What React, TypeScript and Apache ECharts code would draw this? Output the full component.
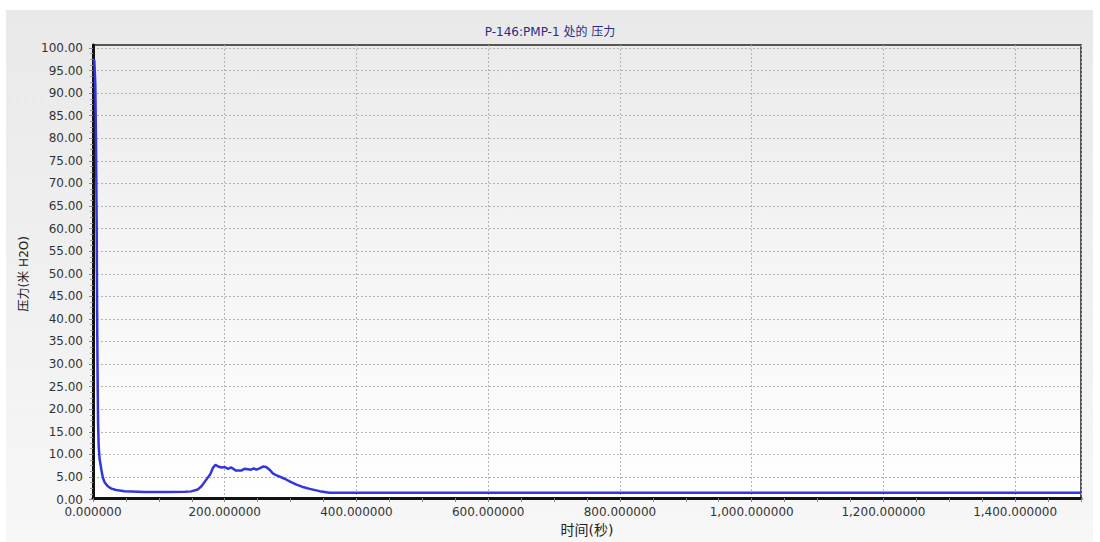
import React, { useEffect, useRef } from "react";
import * as echarts from "echarts";

// Pressure history at pump P-146:PMP-1
const titleText = "P-146:PMP-1 处的 压力";
const xName = "时间(秒)";
const yName = "压力(米 H2O)";

// time (s)
const times = [
  0, 2, 3.5, 4.5, 5.5, 6.3, 7, 7.7, 8.6, 10, 12.7, 15, 17.8, 22, 28, 35, 48,
  78, 110, 140, 149, 159, 165, 172, 178, 182, 186, 190, 195, 200, 205, 210, 217,
  225, 230, 235, 240, 244, 248, 253, 258, 263, 268, 273, 278, 291, 300, 309,
  320, 329, 344, 359, 380, 600, 900, 1200, 1500,
];
// pressure (m H2O)
const pressures = [
  97.5, 97.3, 92, 80, 62, 40, 27, 17, 11.8, 9, 6.6, 4.8, 3.75, 3.0, 2.4, 2.1,
  1.85, 1.65, 1.65, 1.7, 1.8, 2.2, 3.0, 4.4, 5.6, 7.0, 7.7, 7.3, 7.1, 7.2, 6.8,
  7.1, 6.4, 6.4, 6.8, 6.7, 6.6, 6.9, 6.6, 6.9, 7.3, 7.2, 6.6, 5.8, 5.4, 4.6,
  3.9, 3.3, 2.7, 2.35, 1.85, 1.5, 1.5, 1.5, 1.5, 1.5, 1.5,
];

const X_MIN = 0;
const X_MAX = 1500;
const X_STEP = 200;
const Y_MIN = 0;
const Y_MAX = 100;
const Y_STEP = 5;

const FONT = "'DejaVu Sans', 'Noto Sans CJK SC', sans-serif";

function fmtX(v: number): string {
  return v.toLocaleString("en-US", {
    minimumFractionDigits: 6,
    maximumFractionDigits: 6,
  });
}

export default function App() {
  const ref = useRef<HTMLDivElement>(null);

  useEffect(() => {
    if (!ref.current) return;
    const chart = echarts.init(ref.current, null, { renderer: "svg" });
    const dashed = { color: "#b4b4b4", width: 1, type: [2, 2] as number[] };

    chart.setOption({
      animation: false,
      backgroundColor: "transparent",
      textStyle: { fontFamily: FONT },
      title: {
        text: titleText,
        left: "center",
        top: 21,
        textStyle: {
          fontSize: 12,
          fontWeight: "normal",
          color: "#2b2b80",
          fontFamily: FONT,
        },
      },
      grid: [
        // frame: border box, x axis labels and vertical grid lines
        {
          left: 93,
          right: 19,
          top: 45,
          bottom: 38,
          show: true,
          borderColor: "#555",
          borderWidth: 2,
          backgroundColor: new echarts.graphic.LinearGradient(0, 0, 0, 1, [
            { offset: 0, color: "#ebebeb" },
            { offset: 1, color: "#ffffff" },
          ]),
        },
        // data area: value range 0..100
        { left: 93, right: 19, top: 48, bottom: 42.5 },
      ],
      xAxis: [
        {
          gridIndex: 0,
          type: "value",
          min: X_MIN,
          max: X_MAX,
          interval: X_STEP,
          name: xName,
          nameLocation: "middle",
          nameGap: 22,
          nameTextStyle: { fontSize: 14, color: "#222", fontFamily: FONT },
          axisLine: { show: true, lineStyle: { color: "#111", width: 3 } },
          axisTick: {
            show: true,
            length: 4,
            lineStyle: { color: "#888" },
          },
          minorTick: {
            show: true,
            splitNumber: 4,
            length: 4,
            lineStyle: { color: "#888" },
          },
          axisLabel: {
            formatter: (v: number) => fmtX(v),
            fontSize: 12,
            color: "#333",
            margin: 8,
            showMaxLabel: false,
          },
          splitLine: { show: true, lineStyle: dashed },
        },
        {
          gridIndex: 1,
          type: "value",
          min: X_MIN,
          max: X_MAX,
          show: false,
        },
      ],
      yAxis: [
        {
          gridIndex: 0,
          type: "value",
          min: 0,
          max: 1,
          axisLine: { show: true, lineStyle: { color: "#111", width: 3 } },
          axisTick: { show: false },
          axisLabel: { show: false },
          splitLine: { show: false },
        },
        {
          gridIndex: 1,
          type: "value",
          min: Y_MIN,
          max: Y_MAX,
          interval: Y_STEP,
          name: yName,
          nameLocation: "middle",
          nameGap: 52,
          nameRotate: 90,
          nameTextStyle: { fontSize: 12, color: "#222", fontFamily: FONT },
          axisLine: { show: false },
          axisTick: {
            show: true,
            length: 4,
            lineStyle: { color: "#888" },
          },
          minorTick: {
            show: true,
            splitNumber: 4,
            length: 3,
            lineStyle: { color: "#999" },
          },
          axisLabel: {
            formatter: (v: number) => v.toFixed(2),
            fontSize: 12,
            color: "#333",
            margin: 10,
          },
          splitLine: { show: true, lineStyle: dashed },
        },
      ],
      series: [
        {
          type: "line",
          xAxisIndex: 1,
          yAxisIndex: 1,
          data: times.map((t, i) => [t, pressures[i]]),
          showSymbol: false,
          lineStyle: { color: "#3535e0", width: 2.5 },
          z: 5,
        },
      ],
    });

    return () => chart.dispose();
  }, []);

  return (
    <div
      style={{
        position: "fixed",
        left: 0,
        top: 0,
        width: 1100,
        height: 542,
        background: "#ffffff",
      }}
    >
      <div
        style={{
          position: "absolute",
          left: 6,
          top: 10,
          width: 1087,
          height: 532,
          background: "linear-gradient(#e9e9e9, #f7f7f7)",
        }}
      />
      <div
        ref={ref}
        style={{ position: "absolute", left: 0, top: 0, width: 1100, height: 542 }}
      />
    </div>
  );
}
